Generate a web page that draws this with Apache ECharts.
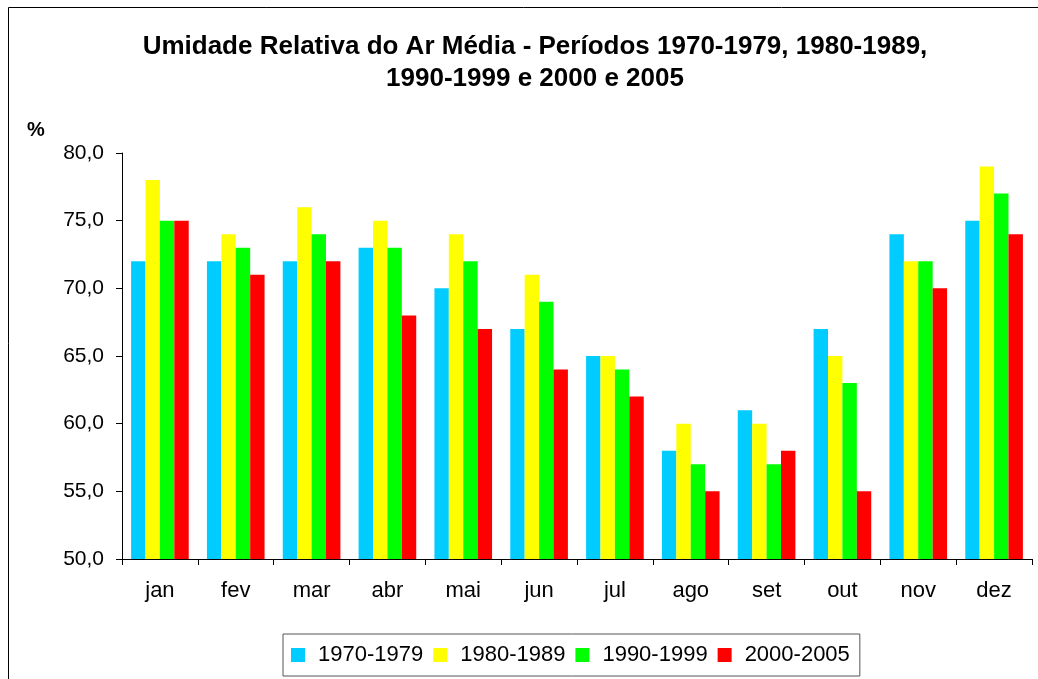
<!DOCTYPE html>
<html>
<head>
<meta charset="utf-8">
<script src="https://cdn.jsdelivr.net/npm/echarts@6/dist/echarts.min.js"></script>
<style>
    html, body { margin: 0; padding: 0; background: #fff; }
    #chart { width: 1038px; height: 679px; }
</style>
</head>
<body>
<div id="chart"></div>
<script>
const months = ['jan', 'fev', 'mar', 'abr', 'mai', 'jun', 'jul', 'ago', 'set', 'out', 'nov', 'dez']
const periods = ['1970-1979', '1980-1989', '1990-1999', '2000-2005']
const v1970 = [72, 72, 72, 73, 70, 67, 65, 58, 61, 67, 74, 75]
const v1980 = [78, 74, 76, 75, 74, 71, 65, 60, 60, 65, 72, 79]
const v1990 = [75, 73, 74, 73, 72, 69, 64, 57, 57, 63, 72, 77]
const v2000 = [75, 71, 72, 68, 67, 64, 62, 55, 58, 55, 70, 74]
const colorList = ['#00CCFF', '#FFFF00', '#00FF00', '#FF0000']

const font = '"Liberation Sans", Arial, sans-serif'
const seriesData = [v1970, v1980, v1990, v2000]

const myChart = echarts.init(document.getElementById('chart'))
myChart.setOption({
    animation: false,
    color: colorList,
    title: {
        text: 'Umidade Relativa do Ar Média - Períodos 1970-1979, 1980-1989,\n1990-1999 e 2000 e 2005',
        left: 530,
        textAlign: 'center',
        top: 26,
        textStyle: {
            fontFamily: font,
            fontWeight: 'bold',
            fontSize: 26,
            lineHeight: 32,
            color: '#000'
        }
    },
    graphic: [
        {
            type: 'rect',
            shape: { x: 8.5, y: 7.5, width: 1100, height: 720 },
            style: { fill: 'none', stroke: '#000', lineWidth: 1 },
            silent: true
        },
        {
            type: 'text',
            left: 27,
            top: 120,
            style: { text: '%', font: 'bold 20px ' + font, fill: '#000' }
        }
    ],
    legend: {
        data: periods,
        left: 283,
        top: 634,
        width: 700,
        orient: 'horizontal',
        icon: 'rect',
        itemWidth: 14,
        itemHeight: 14,
        itemGap: 10,
        padding: [10, 10, 10, 8],
        borderColor: '#555',
        borderWidth: 1,
        textStyle: {
            fontFamily: font,
            fontSize: 22,
            color: '#000',
            padding: [0, 0, 0, 8]
        }
    },
    grid: {
        left: 122,
        top: 153,
        right: 6,
        bottom: 120,
        containLabel: false
    },
    xAxis: {
        type: 'category',
        data: months,
        axisLine: { lineStyle: { color: '#000', width: 1 } },
        axisTick: { show: true, length: 6, lineStyle: { color: '#000' } },
        axisLabel: {
            color: '#000',
            fontFamily: font,
            fontSize: 22,
            margin: 21
        }
    },
    yAxis: {
        type: 'value',
        min: 50,
        max: 80,
        interval: 5,
        axisLine: { show: true, lineStyle: { color: '#000', width: 1 } },
        axisTick: { show: true, length: 6, lineStyle: { color: '#000' } },
        splitLine: { show: false },
        axisLabel: {
            color: '#000',
            fontFamily: font,
            fontSize: 21,
            margin: 18,
            formatter: val => val.toFixed(1).replace('.', ',')
        }
    },
    series: periods.map((name, index) => ({
        name: name,
        type: 'bar',
        data: seriesData[index],
        barGap: '0%',
        barCategoryGap: '24%'
    }))
})
</script>
</body>
</html>
